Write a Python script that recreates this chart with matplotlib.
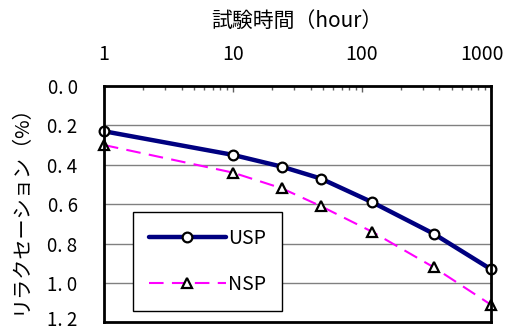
import matplotlib
matplotlib.use("Agg")
import matplotlib.pyplot as plt
from matplotlib.transforms import ScaledTranslation
from matplotlib.ticker import FixedLocator, FixedFormatter, LogLocator, NullFormatter

plt.rcParams['font.family'] = ['Noto Sans CJK JP', 'DejaVu Sans']

# test time (hour) and relaxation (%)
hours = [1, 10, 24, 48, 120, 360, 1000]
usp = [0.23, 0.35, 0.41, 0.47, 0.59, 0.75, 0.93]
nsp = [0.30, 0.44, 0.52, 0.61, 0.74, 0.92, 1.11]

x_ticks = [1, 10, 100, 1000]
x_labels = ['1', '10', '100', '1000']
y_ticks = [0.0, 0.2, 0.4, 0.6, 0.8, 1.0, 1.2]
y_labels = ['0. 0', '0. 2', '0. 4', '0. 6', '0. 8', '1. 0', '1. 2']

fig = plt.figure(figsize=(5.07, 3.33), dpi=100)
ax = fig.add_axes([0.205, 0.032, 0.763, 0.710])

ax.set_xscale('log')
ax.set_xlim(1, 1000)
ax.set_ylim(1.2, 0.0)

for y in y_ticks[1:-1]:
    ax.axhline(y, color='#808080', lw=1.0, zorder=1)

ax.plot(hours, usp, color='#000080', lw=3.2, marker='o', ms=7,
        mfc='white', mec='black', mew=1.6, label='USP', zorder=4,
        clip_on=False, solid_capstyle='round')
ax.plot(hours, nsp, color='#ff00ff', lw=1.5, dashes=(7, 4), marker='^', ms=7,
        mfc='white', mec='black', mew=1.6, label='NSP', zorder=3,
        clip_on=False)

ax.xaxis.tick_top()
ax.xaxis.set_label_position('top')
ax.xaxis.set_major_locator(FixedLocator(x_ticks))
ax.xaxis.set_major_formatter(FixedFormatter(x_labels))
ax.xaxis.set_minor_locator(LogLocator(base=10, subs=range(2, 10)))
ax.xaxis.set_minor_formatter(NullFormatter())
ax.tick_params(axis='x', which='major', direction='in', length=4, width=1,
               color='#606060', labelsize=14, pad=15)
ax.tick_params(axis='x', which='minor', direction='in', length=3, width=1,
               color='#606060')
ax.set_xlabel('試験時間（hour）', fontsize=15, labelpad=12)

ax.set_yticks(y_ticks)
ax.set_yticklabels(y_labels)
ax.tick_params(axis='y', length=0, labelsize=13.5, pad=19)
ax.set_ylabel('リラクセーション（%）', fontsize=14.5, labelpad=12)

# keep the edge labels inside the figure
last_x = ax.get_xticklabels()[-1]
last_x.set_transform(last_x.get_transform() +
                     ScaledTranslation(-6 / 72, 0, fig.dpi_scale_trans))
last_y = ax.get_yticklabels()[-1]
last_y.set_transform(last_y.get_transform() +
                     ScaledTranslation(0, 3 / 72, fig.dpi_scale_trans))

for s in ax.spines.values():
    s.set_linewidth(2)
    s.set_color('black')
    s.set_zorder(5)

leg = ax.legend(loc='lower left', bbox_to_anchor=(0.075, 0.05),
                frameon=True, fancybox=False, framealpha=1,
                edgecolor='black', fontsize=14,
                handlelength=4.0, handletextpad=0.1, labelspacing=1.3,
                borderpad=0.8, borderaxespad=0)
leg.get_frame().set_linewidth(1.0)
leg.set_zorder(6)

fig.savefig('out.png', dpi=100)
